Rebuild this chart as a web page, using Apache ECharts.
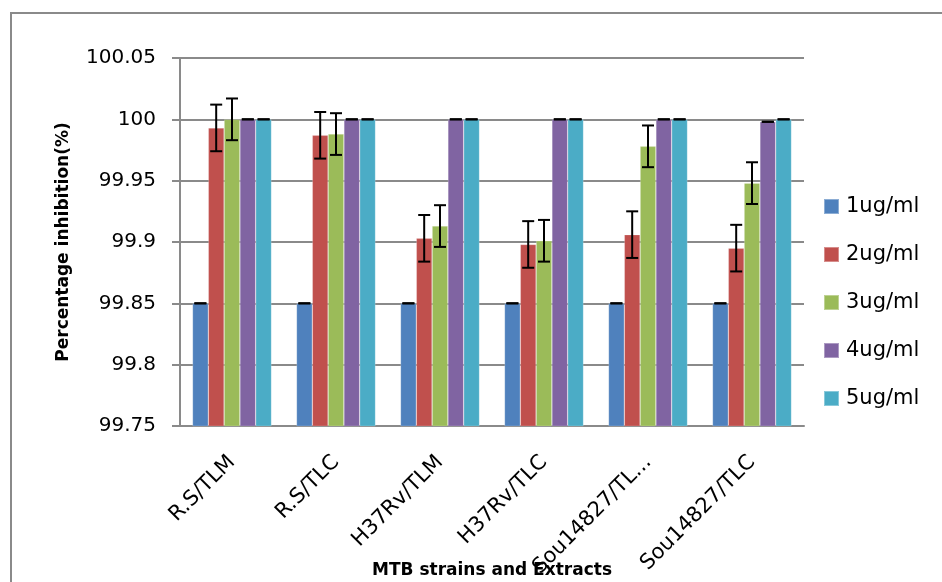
<!DOCTYPE html>
<html>
<head>
<meta charset="utf-8">
<script src="https://cdn.jsdelivr.net/npm/echarts@6/dist/echarts.min.js"></script>
<style>html,body{margin:0;padding:0;background:#fff;overflow:hidden;}#c{width:942px;height:582px;}</style>
</head>
<body>
<div id="c"></div>
<script>
const categories = ['R.S/TLM', 'R.S/TLC', 'H37Rv/TLM', 'H37Rv/TLC', 'Sou14827/TL...', 'Sou14827/TLC'];
const seriesNames = ['1ug/ml', '2ug/ml', '3ug/ml', '4ug/ml', '5ug/ml'];
const s1 = [99.85, 99.85, 99.85, 99.85, 99.85, 99.85];
const s2 = [99.993, 99.987, 99.903, 99.898, 99.906, 99.895];
const s3 = [100.0, 99.988, 99.913, 99.901, 99.978, 99.948];
const s4 = [100.0, 100.0, 100.0, 100.0, 100.0, 99.998];
const s5 = [100.0, 100.0, 100.0, 100.0, 100.0, 100.0];
const e1 = [0, 0, 0, 0, 0, 0];
const e2 = [0.019, 0.019, 0.019, 0.019, 0.019, 0.019];
const e3 = [0.017, 0.017, 0.017, 0.017, 0.017, 0.017];
const e4 = [0, 0, 0, 0, 0, 0];
const e5 = [0, 0, 0, 0, 0, 0];
const yTicks = { min: 99.75, max: 100.05, interval: 0.05 };

const colors = ['#4F81BD', '#C0504D', '#9BBB59', '#8064A2', '#4BACC6'];
const values = [s1, s2, s3, s4, s5];
const errors = [e1, e2, e3, e4, e5];
const GAP = 0.24;
const FONT = 'DejaVu Sans';

const chart = echarts.init(document.getElementById('c'), null, { renderer: 'canvas' });

const barSeries = values.map((vals, i) => ({
  name: seriesNames[i],
  type: 'bar',
  data: vals,
  barGap: 0,
  barCategoryGap: (GAP * 100) + '%',
  itemStyle: { color: colors[i], borderColor: 'rgba(255,255,255,0.35)', borderWidth: 0.6 },
  emphasis: { disabled: true },
  z: 2
}));

const errSeries = values.map((vals, i) => ({
  type: 'custom',
  name: 'err' + i,
  z: 5,
  silent: true,
  data: vals.map((v, k) => [k, v, errors[i][k]]),
  renderItem: function (params, api) {
    const k = api.value(0), v = api.value(1), e = api.value(2);
    const c = api.coord([k, v]);
    const catW = api.size([1, 0])[0];
    const barW = catW * (1 - GAP) / 5;
    const cx = c[0] + (i - 2) * barW;
    const yt = api.coord([k, v + e])[1];
    const yb = api.coord([k, v - e])[1];
    const hw = 6;
    const st = { stroke: '#000', lineWidth: 2 };
    return {
      type: 'group',
      children: [
        { type: 'line', shape: { x1: cx, y1: yt, x2: cx, y2: yb }, style: st },
        { type: 'line', shape: { x1: cx - hw, y1: yt, x2: cx + hw, y2: yt }, style: st },
        { type: 'line', shape: { x1: cx - hw, y1: yb, x2: cx + hw, y2: yb }, style: st }
      ]
    };
  }
}));

chart.setOption({
  animation: false,
  backgroundColor: '#fff',
  color: colors,
  graphic: [{
    type: 'rect',
    shape: { x: 11, y: 13, width: 1000, height: 700 },
    style: { fill: 'none', stroke: '#8a8a8a', lineWidth: 2 },
    silent: true
  }],
  grid: { left: 180, right: 138, top: 58, bottom: 156, containLabel: false, outerBoundsMode: 'none' },
  legend: {
    orient: 'vertical',
    left: 818,
    top: 190,
    data: seriesNames,
    icon: 'rect',
    itemWidth: 15,
    itemHeight: 15,
    itemGap: 25,
    textStyle: { fontFamily: FONT, fontSize: 21, color: '#000', lineHeight: 23, padding: [0, 0, 0, 2] }
  },
  xAxis: {
    type: 'category',
    data: categories,
    name: 'MTB strains and Extracts',
    nameLocation: 'middle',
    nameGap: 136,
    nameMoveOverlap: false,
    nameTextStyle: { fontFamily: FONT, fontSize: 17, fontWeight: 'bold', color: '#000' },
    axisLine: { show: true, lineStyle: { color: '#8a8a8a', width: 2 } },
    axisTick: { show: false },
    axisLabel: {
      interval: 0, rotate: 45, margin: 33,
      fontFamily: FONT, fontSize: 21, color: '#000'
    },
    splitLine: { show: false }
  },
  yAxis: {
    type: 'value',
    min: yTicks.min,
    max: yTicks.max,
    interval: yTicks.interval,
    name: 'Percentage inhibition(%)',
    nameLocation: 'middle',
    nameGap: 108,
    nameRotate: 90,
    nameMoveOverlap: false,
    nameTextStyle: { fontFamily: FONT, fontSize: 17, fontWeight: 'bold', color: '#000' },
    axisLine: { show: true, lineStyle: { color: '#8a8a8a', width: 2 } },
    axisTick: { show: true, inside: false, length: 8, lineStyle: { color: '#8a8a8a', width: 2 } },
    axisLabel: { fontFamily: FONT, fontSize: 20, color: '#000', margin: 24 },
    splitLine: { show: true, lineStyle: { color: '#8a8a8a', width: 2 } }
  },
  series: barSeries.concat(errSeries)
});
</script>
</body>
</html>
